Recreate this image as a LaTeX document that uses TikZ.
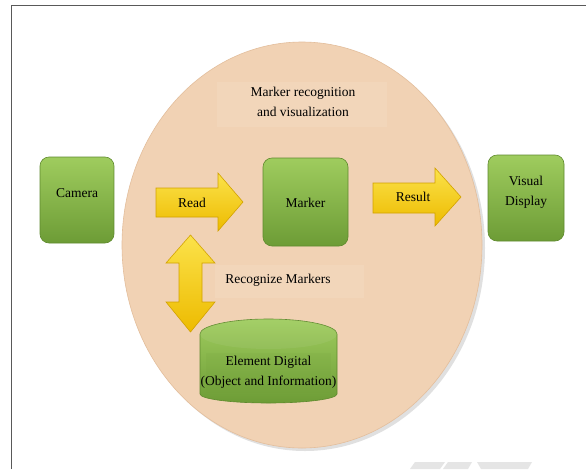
\documentclass[tikz,border=0pt]{standalone}
\usepackage{fontspec}
\setmainfont{Liberation Serif}
\usetikzlibrary{shapes.geometric}
\definecolor{peach}{HTML}{F1D2B4}
\definecolor{peachedge}{HTML}{E3BE9C}
\definecolor{gtop}{HTML}{9FCC5E}
\definecolor{gbot}{HTML}{6D9C36}
\definecolor{gedge}{HTML}{5F8A2E}
\definecolor{ytop}{HTML}{FBE24A}
\definecolor{ybot}{HTML}{EDBB00}
\definecolor{yedge}{HTML}{D2A200}
\tikzset{
  gbox/.style={rounded corners=9pt, top color=gtop, bottom color=gbot, draw=gedge, line width=0.6pt},
  yarrow/.style={top color=ytop, bottom color=ybot, draw=yedge, line width=0.6pt, line join=miter},
  txt/.style={font=\fontsize{13.5}{20}\selectfont, text=black, align=center, inner sep=0pt},
  softbox/.style={fill=white, fill opacity=0.09, draw=none}
}
\begin{document}
\begin{tikzpicture}[x=1pt,y=-1pt]
\useasboundingbox (0,0) rectangle (586,469);
\fill[white] (0,0) rectangle (586,469);
% frame
\draw[line width=1.6pt, black!65] (11.5,469) -- (11.5,5.5) -- (586,5.5);
% watermark
\fill[black!10] (415,462) -- (445,462) -- (440,469) -- (410,469) -- cycle;
\fill[black!10] (448,462) -- (472,462) -- (468,469) -- (443,469) -- cycle;
\fill[black!10] (477,462) -- (532,462) -- (528,469) -- (481,469) -- cycle;
% main ellipse with shadow
\fill[black!12] (305,248) ellipse[x radius=180, y radius=203];
\node[ellipse, minimum width=360pt, minimum height=406pt, fill=peach, draw=peachedge, line width=0.6pt, inner sep=0pt] (circle) at (302,245) {};
% soft text panels
\fill[softbox] (217,82) rectangle (387,127);
\fill[softbox] (215,265) rectangle (364,298);
\node[txt] (title) at (303,102) {Marker recognition\\and visualization};
\node[txt] (recog) at (278,280) {Recognize Markers};
% green boxes
\node[gbox, minimum width=74pt, minimum height=86pt] (camera) at (77,200) {};
\node[txt] (cameralbl) at ([yshift=7pt]camera.center) {Camera};
\node[gbox, minimum width=85pt, minimum height=88pt] (marker) at (305.5,202) {};
\node[txt] (markerlbl) at ([yshift=-1pt]marker.center) {Marker};
\node[gbox, minimum width=76pt, minimum height=86pt] (display) at (526,198) {};
\node[txt] (displaylbl) at ([yshift=5.5pt]display.center) {Visual\\Display};
% cylinder
\path[top color=gtop, bottom color=gbot, draw=gedge, line width=0.6pt]
  (200,334) arc[start angle=180, end angle=360, x radius=68.5, y radius=15]
  -- (337,394) arc[start angle=0, end angle=180, x radius=68.5, y radius=9] -- cycle;
\fill[white, fill opacity=0.06] (268.5,334) ellipse[x radius=68.5, y radius=15];
\fill[gbot, fill opacity=0.12] (206,353) rectangle (331,393);
\coordinate (cyl) at (268.5,372.5);
\node[txt] (element) at (cyl) {Element Digital\\(Object and Information)};
% yellow arrows
\path[yarrow] (156,188) -- (218,188) -- (218,173) -- (243,202) -- (218,231) -- (218,217) -- (156,217) -- cycle;
\node[txt] (readlbl) at (192,203) {Read};
\path[yarrow] (373,183) -- (435,183) -- (435,168) -- (461,197) -- (435,226) -- (435,213) -- (373,213) -- cycle;
\node[txt] (resultlbl) at (413,197) {Result};
\path[yarrow] (190.5,235) -- (215,263) -- (202,263) -- (202,302) -- (215,302) -- (190.5,332) -- (166,302) -- (179,302) -- (179,263) -- (166,263) -- cycle;
\end{tikzpicture}
\end{document}
